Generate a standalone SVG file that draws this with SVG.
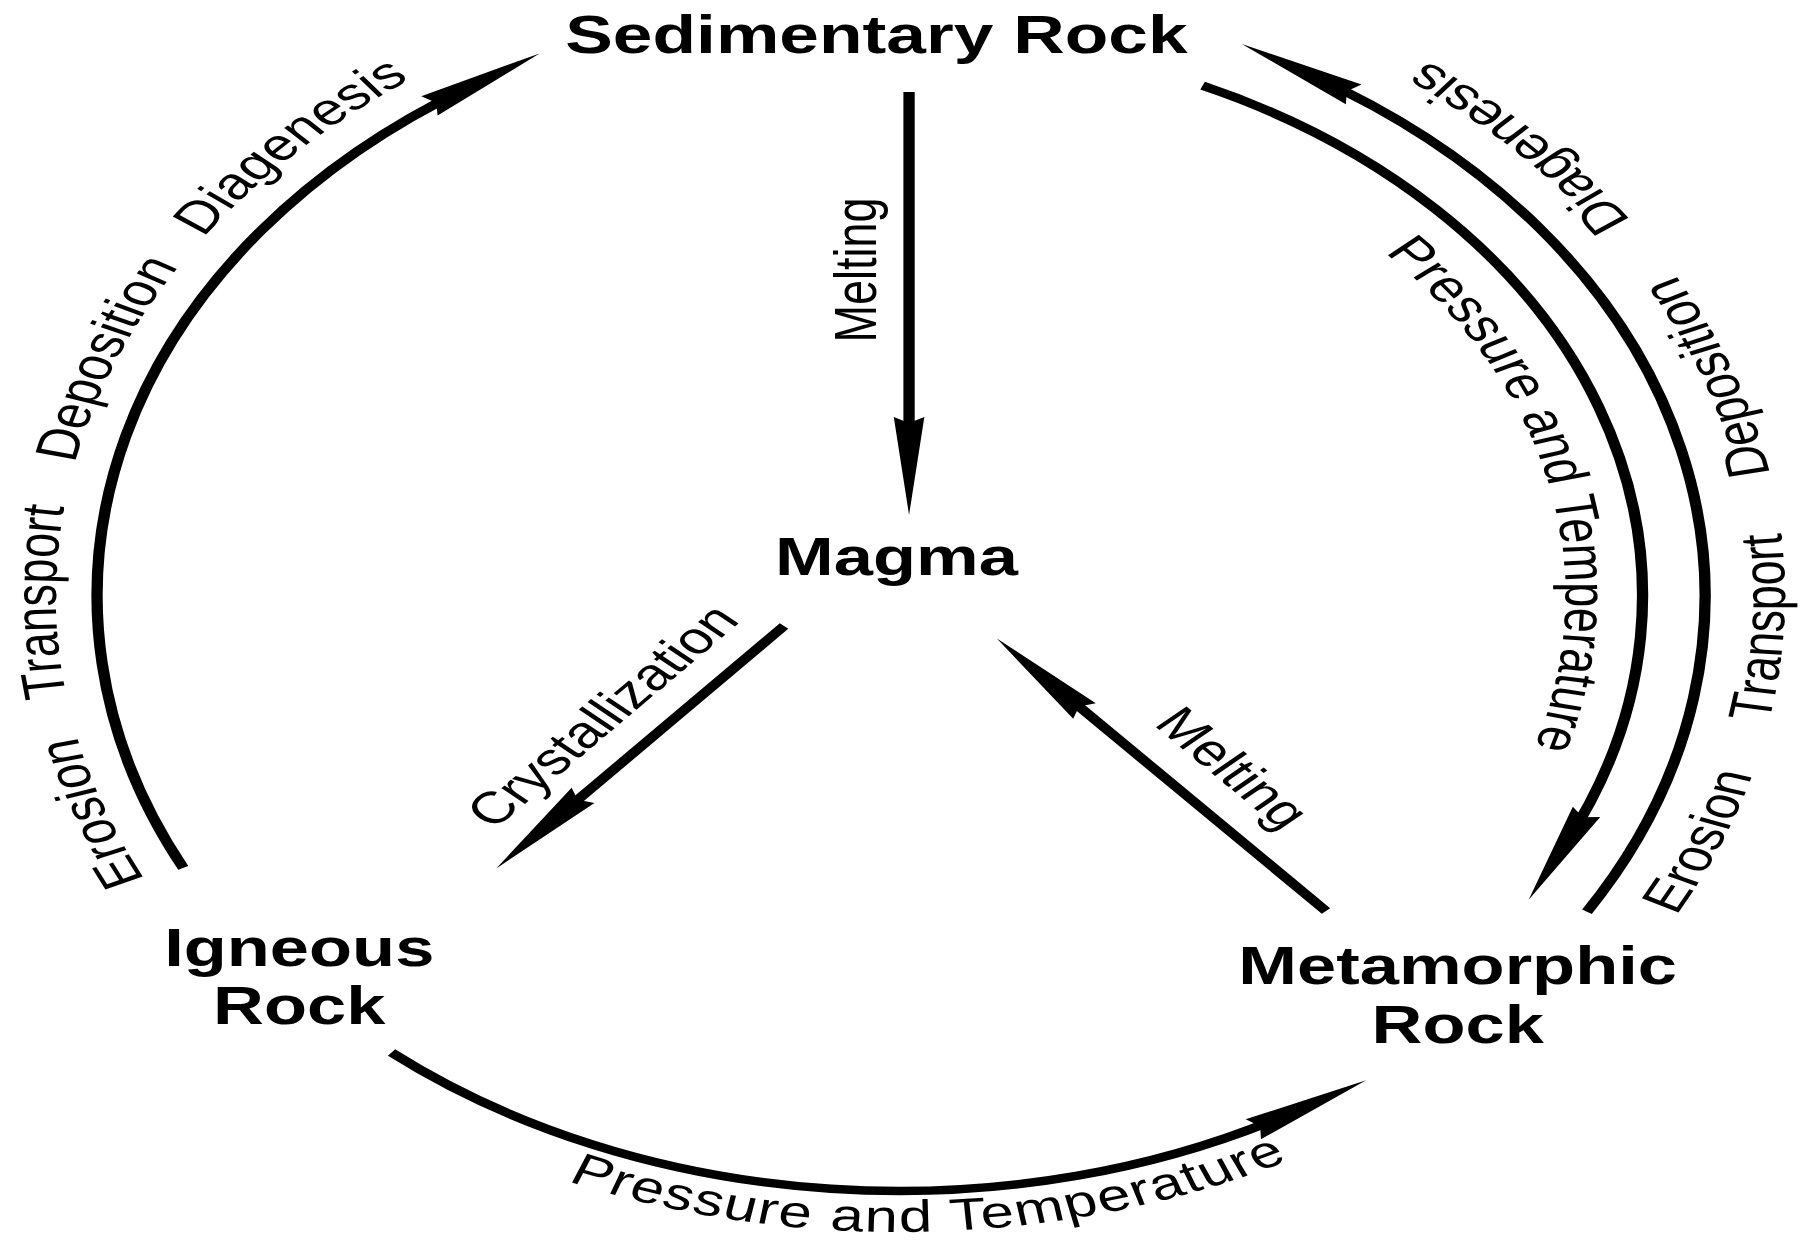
<svg xmlns="http://www.w3.org/2000/svg" width="1808" height="1241" viewBox="0 0 1808 1241">
<style>
.node{font-family:"Liberation Sans",Arial,Helvetica,sans-serif;font-weight:bold;font-size:53px;fill:#000;text-anchor:middle}
.lbl{font-family:"Liberation Sans",Arial,Helvetica,sans-serif;font-size:45px;fill:#000}
.arc{fill:none;stroke:#000;stroke-width:8.5;marker-end:url(#ah)}
</style>
<defs>
<marker id="ah" markerUnits="userSpaceOnUse" orient="auto" refX="0" refY="0" markerWidth="1" markerHeight="1" overflow="visible">
<path d="M62,0 L-36,-11.5 L-30,0 L-36,11.5 Z" fill="#000"/>
</marker>
<path id="pLeft" d="M227.7,1044.3 A634,634 0 0 1 587.8,-31.8" fill="none"/>
<path id="pRightOut" d="M1104.1,1106.2 A666,666 0 0 0 734,-67.5" fill="none"/>
<path id="pRightIn" d="M719.7,96.9 A501,501 0 0 1 1030.3,950.3" fill="none"/>
<path id="pBottom" d="M188.8,1004.8 A636,636 0 0 0 1163.2,1004.8" fill="none"/>
</defs>
<rect width="1808" height="1241" fill="#fff"/>
<g transform="scale(1.33,1)">
<g id="connectors">
<path class="arc" d="M137.8,867.9 A603,603 0 0 1 353.3,86.6"/>
<path class="arc" d="M1193.2,911.7 A606,606 0 0 0 986.9,75.8"/>
<path class="arc" d="M904.2,85.7 A559,559 0 0 1 1176.9,844.1"/>
<path class="arc" d="M294.4,1052.5 A595,595 0 0 0 973.5,1111.3"/>
<path class="arc" d="M683.5,92 L683.5,453"/>
<path class="arc" d="M589.5,626 L414.4,822.2"/>
<path class="arc" d="M997,911 L791.2,684.4"/>
</g>
<g id="labels">
<text class="lbl"><textPath href="#pLeft" startOffset="280" text-anchor="middle">Erosion</textPath></text>
<text class="lbl"><textPath href="#pLeft" startOffset="492" text-anchor="middle">Transport</textPath></text>
<text class="lbl"><textPath href="#pLeft" startOffset="738" text-anchor="middle">Deposition</textPath></text>
<text class="lbl"><textPath href="#pLeft" startOffset="990" text-anchor="middle">Diagenesis</textPath></text>
<text class="lbl"><textPath href="#pRightOut" startOffset="324" text-anchor="middle">Erosion</textPath></text>
<text class="lbl"><textPath href="#pRightOut" startOffset="549" text-anchor="middle">Transport</textPath></text>
<text class="lbl"><textPath href="#pRightOut" startOffset="810" text-anchor="middle">Deposition</textPath></text>
<text class="lbl"><textPath href="#pRightOut" startOffset="1091" text-anchor="middle">Diagenesis</textPath></text>
<text class="lbl"><textPath href="#pRightIn" startOffset="631" text-anchor="middle">Pressure and Temperature</textPath></text>
<text class="lbl"><textPath href="#pBottom" startOffset="579" text-anchor="middle" textLength="560" lengthAdjust="spacing">Pressure and Temperature</textPath></text>
<text class="lbl" text-anchor="middle" transform="translate(658.5,270) rotate(-90)">Melting</text>
<text class="lbl" text-anchor="middle" transform="translate(464.2,725.9) rotate(-48.3)">Crystallization</text>
<text class="lbl" text-anchor="middle" transform="translate(915.6,778.1) rotate(47.7)">Melting</text>
</g>
<g id="sedimentary"><text class="node" x="659" y="53" textLength="468" lengthAdjust="spacingAndGlyphs">Sedimentary Rock</text></g>
<g id="magma"><text class="node" x="674" y="575">Magma</text></g>
<g id="igneous"><text class="node" x="225" y="966">Igneous</text><text class="node" x="225" y="1024">Rock</text></g>
<g id="metamorphic"><text class="node" x="1096" y="984">Metamorphic</text><text class="node" x="1096" y="1043">Rock</text></g>
</g>
</svg>
